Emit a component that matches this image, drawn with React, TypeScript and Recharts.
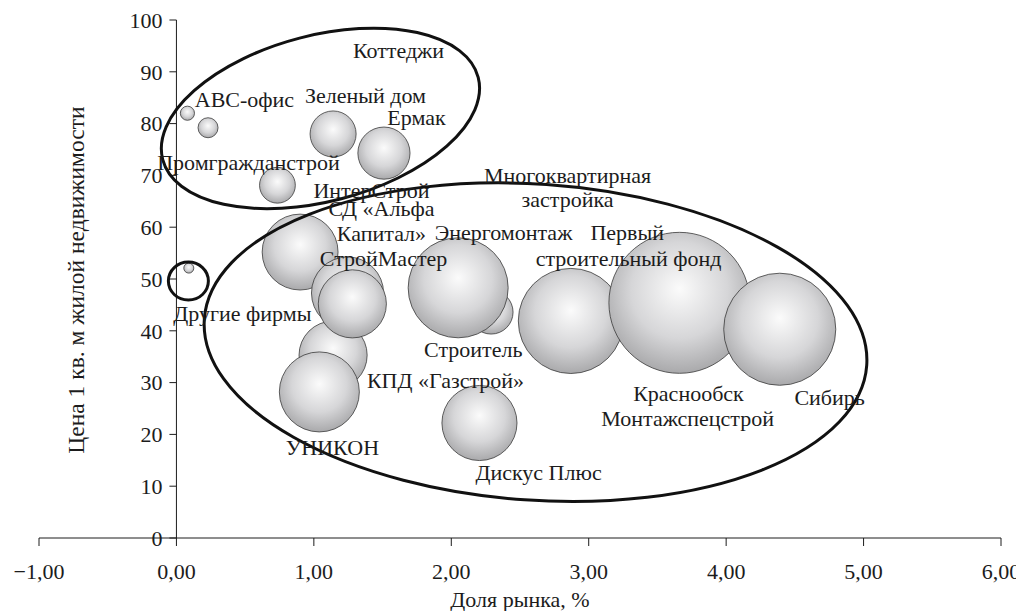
import { ReferenceLine, Scatter, ScatterChart, XAxis, YAxis, ZAxis } from "recharts";

// bubbles, in drawing order (later ones overlap earlier ones)
const firms = [
  "АВС-офис",
  "Промгражданстрой",
  "Зеленый дом",
  "Ермак",
  "ИнтерСтрой",
  "Другие фирмы",
  "СД «Альфа Капитал»",
  "СтройМастер",
  "КПД «Газстрой»",
  "Монтажспецстрой",
  "УНИКОН",
  "Строитель",
  "Энергомонтаж",
  "Первый строительный фонд",
  "Краснообск",
  "Сибирь",
  "Дискус Плюс",
];
const share = [0.08, 0.23, 1.14, 1.51, 0.735, 0.09, 0.9, 1.245, 1.14, 1.28, 1.04, 2.29, 2.05, 2.87, 3.66, 4.39, 2.205];
const price = [82.0, 79.2, 78.0, 74.3, 68.1, 52.1, 55.2, 47.3, 35.3, 45.2, 28.2, 43.6, 48.3, 41.9, 45.4, 40.3, 22.2];
const volume = [0.5, 1.0, 5.3, 6.8, 3.2, 0.25, 14.4, 13.0, 11.6, 11.6, 16.0, 4.8, 25.0, 27.6, 49.7, 31.4, 14.1];

const xTicks = [-1, 0, 1, 2, 3, 4, 5, 6];
const yTicks = [0, 10, 20, 30, 40, 50, 60, 70, 80, 90, 100];

// text annotations (one line each)
const labelText = [
  "Коттеджи",
  "АВС-офис",
  "Зеленый дом",
  "Ермак",
  "Промгражданстрой",
  "ИнтерСтрой",
  "СД «Альфа",
  "Капитал»",
  "СтройМастер",
  "Другие фирмы",
  "Строитель",
  "КПД «Газстрой»",
  "УНИКОН",
  "Дискус Плюс",
  "Многоквартирная",
  "застройка",
  "Энергомонтаж",
  "Первый",
  "строительный фонд",
  "Краснообск",
  "Монтажспецстрой",
  "Сибирь",
];
const labelX = [1.616, 0.495, 1.376, 1.747, 0.524, 1.419, 1.492, 1.492, 1.507, 0.48, 2.16, 1.958, 1.135, 2.635, 2.846, 2.846, 2.38, 3.28, 3.29, 3.726, 3.72, 4.753];
const labelY = [94.2, 84.6, 85.5, 81.3, 72.6, 67.2, 63.7, 58.9, 54.05, 43.4, 36.5, 30.5, 17.6, 12.7, 70.1, 65.3, 59.1, 59.1, 54.05, 28.0, 23.2, 27.2];

// group outlines: centres in data units
const groupX = [1.048, 2.613, 0.087];
const groupY = [81.0, 37.8, 49.6];
// outline shape (pixels / degrees)
const groupShape = [
  { rx: 163, ry: 83, angle: -14.6 },
  { rx: 332, ry: 158, angle: 4 },
  { rx: 20, ry: 19, angle: 0 },
];

const font = '"Liberation Serif", "Times New Roman", serif';
const ink = "#1c1c1c";

const bubbles = firms.map((name, i) => ({ name, x: share[i], y: price[i], z: volume[i] }));
const labels = labelText.map((text, i) => ({ text, x: labelX[i], y: labelY[i] }));
const groups = groupX.map((x, i) => ({ x, y: groupY[i], ...groupShape[i] }));
const yTickPoints = yTicks.map((v) => ({ x: 0, y: v }));
const yTitle = [{ x: -0.735, y: 49.8 }];

const fmt = (v: number) => (v < 0 ? "\u2212" : "") + Math.abs(v).toFixed(2).replace(".", ",");

const LabelShape = (props: any) => (
  <text
    x={props.cx}
    y={props.cy}
    dy="0.35em"
    textAnchor="middle"
    fontFamily={font}
    fontSize={22}
    fill={ink}
  >
    {props.payload.text}
  </text>
);

const GroupShape = (props: any) => {
  const { cx, cy, payload } = props;
  return (
    <ellipse
      cx={cx}
      cy={cy}
      rx={payload.rx}
      ry={payload.ry}
      transform={`rotate(${payload.angle} ${cx} ${cy})`}
      fill="none"
      stroke="#111"
      strokeWidth={3}
    />
  );
};

const YTickShape = (props: any) => {
  const { cx, cy, payload } = props;
  return (
    <g>
      <line x1={cx - 7} y1={cy} x2={cx} y2={cy} stroke={ink} strokeWidth={1} />
      <text
        x={cx - 14}
        y={cy}
        dy="0.35em"
        textAnchor="end"
        fontFamily={font}
        fontSize={22}
        fill={ink}
      >
        {payload.y}
      </text>
    </g>
  );
};

const YTitleShape = (props: any) => (
  <text
    x={props.cx}
    y={props.cy}
    dy="0.35em"
    textAnchor="middle"
    fontFamily={font}
    fontSize={23.5}
    fill={ink}
    transform={`rotate(-90 ${props.cx} ${props.cy})`}
  >
    Цена 1 кв. м жилой недвижимости
  </text>
);

const App = () => {
  return (
    <ScatterChart width={1016} height={603} margin={{ top: 12, right: 23, bottom: 0, left: 31 }}>
      <defs>
        <radialGradient id="ball" cx="50%" cy="42%" r="62%" fx="50%" fy="40%">
          <stop offset="0%" stopColor="#fbfbfb" />
          <stop offset="55%" stopColor="#d6d6d8" />
          <stop offset="100%" stopColor="#a2a2a4" />
        </radialGradient>
      </defs>
      <XAxis
        type="number"
        dataKey="x"
        domain={[-1, 6]}
        ticks={xTicks}
        interval={0}
        tickFormatter={fmt}
        height={73}
        tickSize={8}
        tickMargin={17}
        stroke={ink}
        tick={{ fontSize: 22, fontFamily: font, fill: ink }}
        label={{
          value: "Доля рынка, %",
          position: "insideBottom",
          offset: 4,
          fontSize: 22,
          fontFamily: font,
          fill: ink,
        }}
      />
      <YAxis type="number" dataKey="y" domain={[0, 100]} hide />
      <ZAxis type="number" dataKey="z" domain={[0, 50]} range={[0, 15708]} />
      <ReferenceLine x={0} stroke={ink} strokeWidth={1} />
      <Scatter data={yTickPoints} shape={YTickShape} isAnimationActive={false} />
      <Scatter data={yTitle} shape={YTitleShape} isAnimationActive={false} />
      <Scatter
        data={bubbles}
        fill="url(#ball)"
        stroke="#3a3a3a"
        strokeWidth={0.8}
        isAnimationActive={false}
      />
      <Scatter data={groups} shape={GroupShape} isAnimationActive={false} />
      <Scatter data={labels} shape={LabelShape} isAnimationActive={false} />
    </ScatterChart>
  );
};

export default App;
